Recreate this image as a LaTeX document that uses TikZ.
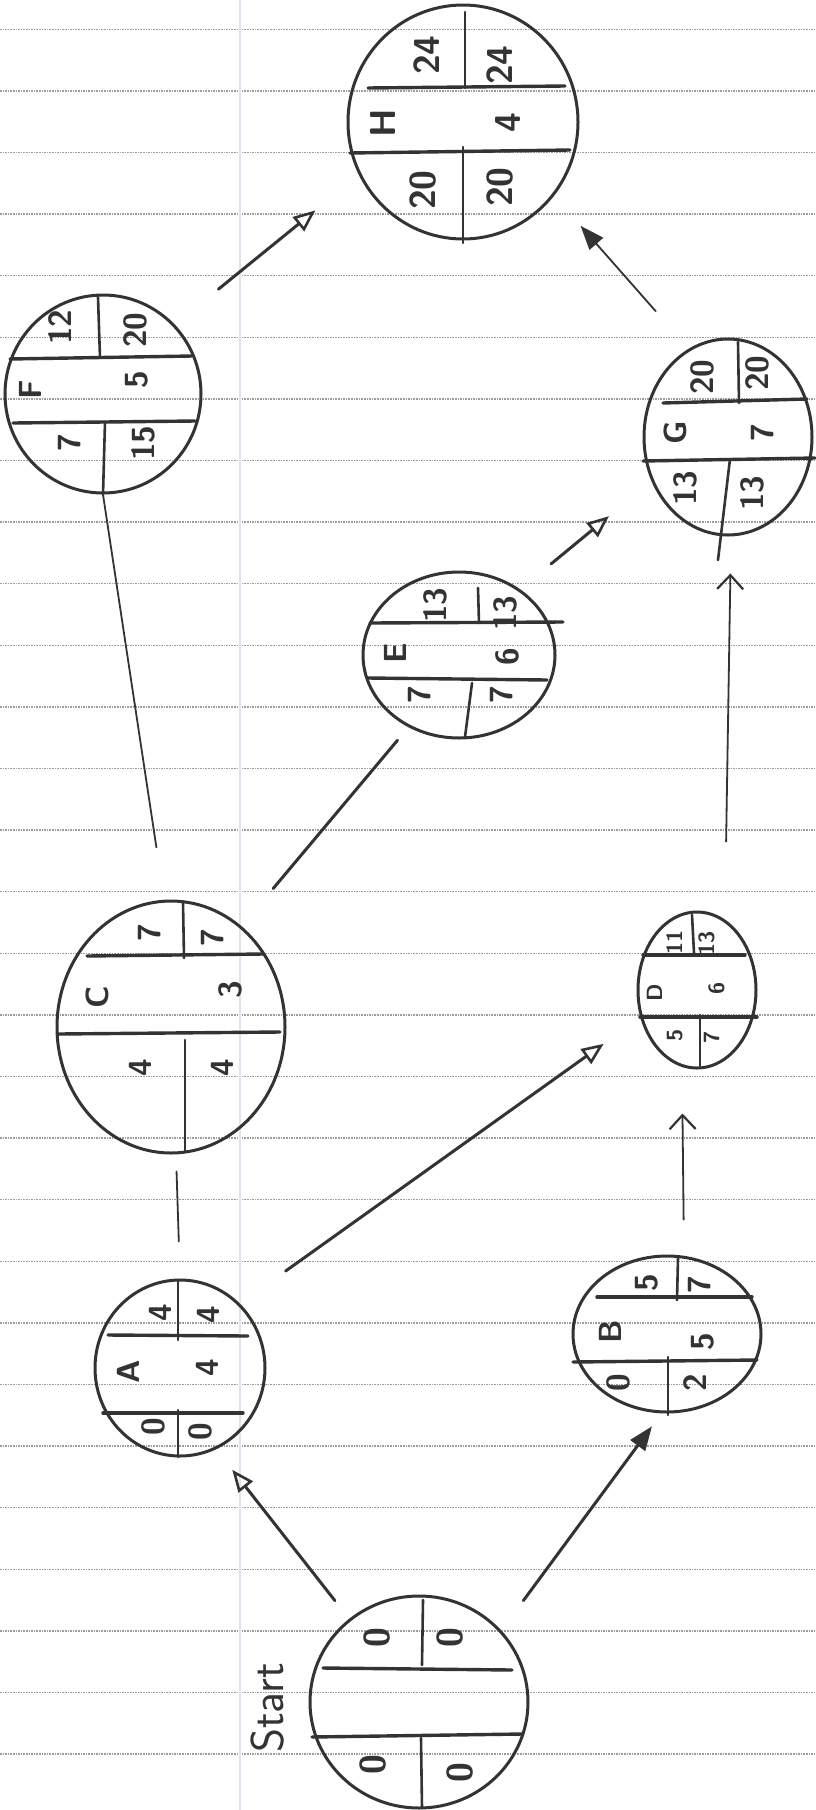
\documentclass[tikz,border=0pt]{standalone}
\usetikzlibrary{shapes.geometric,arrows.meta}
\definecolor{ink}{HTML}{333333}
\definecolor{rulec}{HTML}{9C9C9C}
\definecolor{marginc}{HTML}{E2E2EC}
\begin{document}
\begin{tikzpicture}[x=1pt,y=-1pt,
  evt/.style={ellipse, draw=ink, line width=3pt, inner sep=0pt},
  divh/.style={draw=ink, line width=3.4pt, line cap=round},
  divv/.style={draw=ink, line width=2.6pt, line cap=round},
  lbl/.style={rotate=90, text=ink, inner sep=0pt, font=\sffamily\bfseries\fontsize{32}{32}\selectfont},
  lblbig/.style={lbl, font=\sffamily\bfseries\fontsize{36}{36}\selectfont},
  lblsm/.style={lbl, font=\sffamily\bfseries\fontsize{22}{22}\selectfont},
  conn/.style={draw=ink, line width=3pt, line cap=round},
  thinconn/.style={draw=ink, line width=1.8pt, line cap=round},
  otri/.style={-{Triangle[open, length=22pt, width=18pt, line width=2.6pt]}},
  ftri/.style={-{Triangle[length=24pt, width=18pt]}},
  barb/.style={-{Straight Barb[length=14pt, width=26pt, line width=2.2pt]}}
]
\useasboundingbox[fill=white] (0,0) rectangle (815,1810);
% lined paper
\foreach \k in {0,...,28}{
  \draw[rulec, line width=1.3pt, dash pattern=on 1.6pt off 1pt] (0,29.3+61.6*\k) -- (815,29.3+61.6*\k);
}
\draw[marginc, line width=1.5pt] (240,0) -- (240,1810);

% event nodes
\node[evt, minimum width=230pt, minimum height=234pt] (H) at (463,122) {};
\node[evt, minimum width=196pt, minimum height=198pt] (F) at (103,394) {};
\node[evt, minimum width=168pt, minimum height=196pt] (G) at (728,437) {};
\node[evt, minimum width=192pt, minimum height=166pt] (E) at (459,655) {};
\node[evt, minimum width=228pt, minimum height=252pt] (C) at (171,1027) {};
\node[evt, minimum width=118pt, minimum height=156pt] (D) at (697,990) {};
\node[evt, minimum width=170pt, minimum height=176pt] (A) at (180,1368) {};
\node[evt, minimum width=188pt, minimum height=156pt] (B) at (667,1334) {};
\node[evt, minimum width=218pt, minimum height=212pt] (S) at (419,1702) {};

% dividers
\draw[divh] (368,88) -- (565,86);   \draw[divh] (350,153) -- (570,150);
\draw[divv] (465,12) -- (465,88);   \draw[divv] (463,147) -- (463,243);
\draw[divh] (10,359) -- (192,356);  \draw[divh] (13,423) -- (195,421);
\draw[divv] (98,297) -- (100,358);  \draw[divv] (105,422) -- (F.south);
\draw[divh] (663,403) -- (807,399); \draw[divh] (643,461) -- (815,458);
\draw[divv] (738,342) -- (739,403); \draw[divv] (730,459) -- (718,560);
\draw[divh] (370,623) -- (563,622); \draw[divh] (368,678) -- (547,680);
\draw[divv] (478,588) -- (479,623); \draw[divv] (472,683) -- (465,737);
\draw[divh] (87,956) -- (263,954);  \draw[divh] (58,1034) -- (280,1032);
\draw[divv] (183,902) -- (184,958); \draw[divv] (185,1040) -- (185,1152);
\draw[divh] (643,955) -- (745,955); \draw[divh] (640,1017) -- (757,1017);
\draw[divv] (692,915) -- (694,953); \draw[divv] (700,1015) -- (700,1066);
\draw[divh] (108,1335) -- (248,1336); \draw[divh] (103,1413) -- (243,1413);
\draw[divv] (178,1280) -- (178,1340); \draw[divv] (178,1410) -- (178,1457);
\draw[divh] (597,1297) -- (752,1297); \draw[divh] (573,1362) -- (757,1360);
\draw[divv] (678,1258) -- (677,1300); \draw[divv] (668,1357) -- (668,1415);
\draw[divh] (323,1668) -- (512,1670); \draw[divh] (312,1737) -- (522,1734);
\draw[divv] (423,1600) -- (422,1665); \draw[divv] (421,1738) -- (422,1808);

% labels H
\node[lblbig] (h1) at (427,55) {24};
\node[lblbig] (h2) at (500,65) {24};
\node[lblbig] (h3) at (383,123) {H};
\node[lblbig] (h4) at (508,123) {4};
\node[lblbig] (h5) at (423,190) {20};
\node[lblbig] (h6) at (500,187) {20};
% F
\node[lbl] (f1) at (60,327) {12};
\node[lbl] (f2) at (135,330) {20};
\node[lbl] (f3) at (30,390) {F};
\node[lbl] (f4) at (137,380) {5};
\node[lbl] (f5) at (70,443) {7};
\node[lbl] (f6) at (143,443) {15};
% G
\node[lbl] (g1) at (702,377) {20};
\node[lbl] (g2) at (757,373) {20};
\node[lbl] (g3) at (675,433) {G};
\node[lbl] (g4) at (763,433) {7};
\node[lbl] (g5) at (685,488) {13};
\node[lbl] (g6) at (752,493) {13};
% E
\node[lbl] (e1) at (435,605) {13};
\node[lbl] (e2) at (505,613) {13};
\node[lbl] (e3) at (395,653) {E};
\node[lbl] (e4) at (507,657) {6};
\node[lbl] (e5) at (420,695) {7};
\node[lbl] (e6) at (502,695) {7};
% C
\node[lbl] (c1) at (150,933) {7};
\node[lbl] (c2) at (213,938) {7};
\node[lbl] (c3) at (97,997) {C};
\node[lbl] (c4) at (230,990) {3};
\node[lbl] (c5) at (140,1068) {4};
\node[lbl] (c6) at (222,1068) {4};
% D
\node[lblsm] (d1) at (675,942) {11};
\node[lblsm] (d2) at (707,943) {13};
\node[lblsm] (d3) at (655,993) {D};
\node[lblsm] (d4) at (717,988) {6};
\node[lblsm] (d5) at (675,1035) {5};
\node[lblsm] (d6) at (712,1037) {7};
% A
\node[lbl] (a1) at (160,1313) {4};
\node[lbl] (a2) at (208,1315) {4};
\node[lbl] (a3) at (128,1372) {A};
\node[lbl] (a4) at (207,1368) {4};
\node[lbl] (a5) at (153,1427) {0};
\node[lbl] (a6) at (200,1432) {0};
% B
\node[lbl] (b1) at (647,1283) {5};
\node[lbl] (b2) at (700,1285) {7};
\node[lbl] (b3) at (610,1332) {B};
\node[lbl] (b4) at (703,1342) {5};
\node[lbl] (b5) at (618,1383) {0};
\node[lbl] (b6) at (695,1383) {2};
% Start
\node[lblbig] (s1) at (377,1638) {0};
\node[lblbig] (s2) at (450,1638) {0};
\node[lblbig] (s3) at (373,1765) {0};
\node[lblbig] (s4) at (460,1773) {0};
\node[rotate=90, text=ink, inner sep=0pt, font=\sffamily\fontsize{46}{46}\selectfont] (st) at (268,1708) {Start};

% connectors
\draw[conn, otri, shorten <=56pt, shorten >=56pt] (F.44.5) -- (H.207);
\draw[thinconn, ftri, shorten <=50pt, shorten >=40pt] (G.114.4) -- (H.-39);
\draw[conn, otri, shorten <=40pt, shorten >=55pt] (E.47.8) -- (G.210);
\draw[thinconn, barb, shorten <=69pt, shorten >=37pt] ([xshift=28pt]D.north) -- ([xshift=3pt]G.south);
\draw[conn, shorten <=49pt, shorten >=17pt] (C.55) -- (E.235.2);
\draw[thinconn, shorten <=53pt] (C.93) -- (F.south);
\draw[thinconn, shorten <=37pt, shorten >=17pt] (A.north) -- ([xshift=5pt]C.south);
\draw[conn, otri, shorten <=56pt, shorten >=45pt] (A.47) -- (D.206.3);
\draw[thinconn, barb, shorten <=35pt, shorten >=44pt] ([xshift=17pt]B.north) -- ([xshift=-15pt]D.south);
\draw[conn, otri, shorten <=23pt, shorten >=26pt] (S.130) -- (A.-66.6);
\draw[conn, ftri, shorten <=37pt, shorten >=16pt] (S.41.7) -- (B.-94.3);
\end{tikzpicture}
\end{document}
